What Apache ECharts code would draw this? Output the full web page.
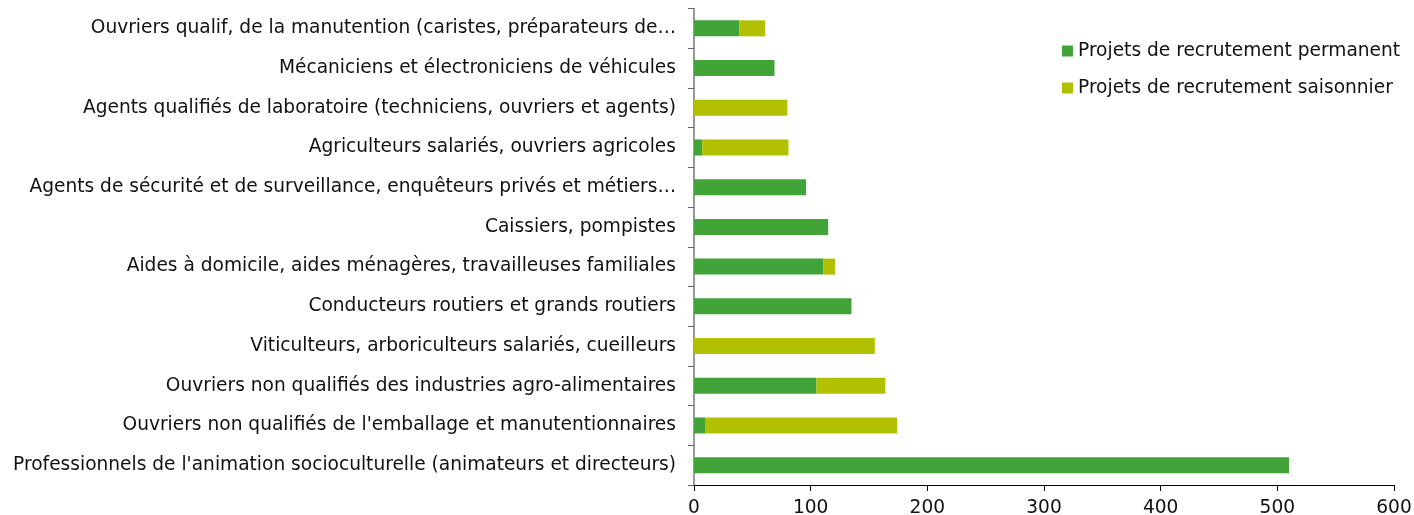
<!DOCTYPE html>
<html>
<head>
<meta charset="utf-8">
<script src="https://cdn.jsdelivr.net/npm/echarts@6/dist/echarts.min.js"></script>
<style>
  html, body { margin: 0; padding: 0; background: #fff; }
  #main { width: 1414px; height: 515px; }
</style>
</head>
<body>
<div id="main"></div>
<script>
// categories from bottom to top
var metiers = [
    "Professionnels de l'animation socioculturelle (animateurs et directeurs)",
    "Ouvriers non qualifiés de l'emballage et manutentionnaires",
    "Ouvriers non qualifiés des industries agro-alimentaires",
    "Viticulteurs, arboriculteurs salariés, cueilleurs",
    "Conducteurs routiers et grands routiers",
    "Aides à domicile, aides ménagères, travailleuses familiales",
    "Caissiers, pompistes",
    "Agents de sécurité et de surveillance, enquêteurs privés et métiers…",
    "Agriculteurs salariés, ouvriers agricoles",
    "Agents qualifiés de laboratoire (techniciens, ouvriers et agents)",
    "Mécaniciens et électroniciens de véhicules",
    "Ouvriers qualif, de la manutention (caristes, préparateurs de…"
];
var permanent  = [510, 10, 105, 0, 135, 111, 115, 96, 7, 0, 69, 39];
var saisonnier = [0, 164, 59, 155, 0, 10, 0, 0, 74, 80, 0, 22];
var xTicks = [0, 100, 200, 300, 400, 500, 600];

var myChart = echarts.init(document.getElementById('main'));
var fontFam = 'DejaVu Sans, Verdana, sans-serif';
var fs = 18.6;

var option = {
    animation: false,
    textStyle: { fontFamily: fontFam },
    legend: {
        orient: 'vertical',
        left: 1057,
        top: 36,
        itemWidth: 11,
        itemHeight: 11,
        itemGap: 17,
        icon: 'rect',
        textStyle: { fontSize: fs, lineHeight: 20, color: '#111', fontFamily: fontFam },
        data: ['Projets de recrutement permanent', 'Projets de recrutement saisonnier']
    },
    grid: { left: 694, right: 20, top: 8.5, bottom: 30, containLabel: false, outerBoundsMode: 'none' },
    xAxis: {
        type: 'value',
        min: xTicks[0],
        max: xTicks[xTicks.length - 1],
        interval: 100,
        splitLine: { show: false },
        axisLine: { show: true, lineStyle: { color: '#000', width: 1 } },
        axisTick: { show: true, length: 6, lineStyle: { color: '#000' } },
        axisLabel: { fontSize: fs, color: '#111', margin: 14, fontFamily: fontFam }
    },
    yAxis: {
        type: 'category',
        data: metiers,
        axisLine: { lineStyle: { color: '#777', width: 1.5 } },
        axisTick: { show: true, length: 6, lineStyle: { color: '#666' } },
        axisLabel: { fontSize: fs, color: '#111', margin: 18, fontFamily: fontFam }
    },
    series: [
        {
            name: 'Projets de recrutement permanent',
            type: 'bar',
            stack: 'total',
            barWidth: 16,
            itemStyle: { color: '#42a338' },
            data: permanent
        },
        {
            name: 'Projets de recrutement saisonnier',
            type: 'bar',
            stack: 'total',
            barWidth: 16,
            itemStyle: { color: '#b1c100' },
            data: saisonnier
        }
    ]
};
myChart.setOption(option);
</script>
</body>
</html>
